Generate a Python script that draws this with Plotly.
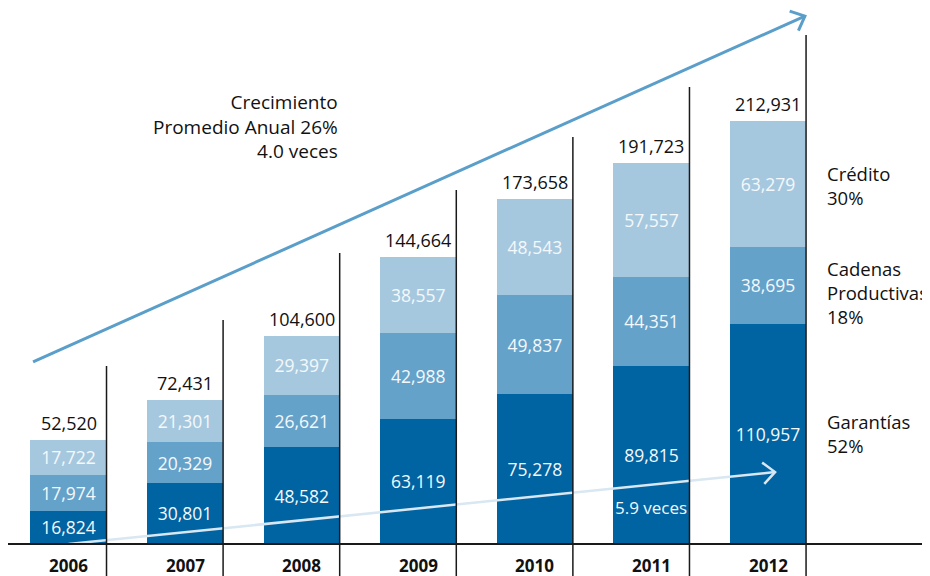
"""
Crecimiento de la cartera 2006-2012, barras apiladas con Plotly.
"""
import math
import plotly.graph_objects as go

# datos
years = ["2006", "2007", "2008", "2009", "2010", "2011", "2012"]
garantias = [16824, 30801, 48582, 63119, 75278, 89815, 110957]
cadenas = [17974, 20329, 26621, 42988, 49837, 44351, 38695]
credito = [17722, 21301, 29397, 38557, 48543, 57557, 63279]
totales = [52520, 72431, 104600, 144664, 173658, 191723, 212931]
# altura de las lineas divisorias a la derecha de cada barra
separadores = [89600, 112700, 146500, 178200, 204800, 230000, 256200]

series_labels = [
    ("Garantías<br>52%", 0),
    ("Cadenas<br>Productivas<br>18%", 1),
    ("Crédito<br>30%", 2),
]

# estilo
# la pagina html deja 8px de margen en el body, la figura se ajusta a eso
W, H = 922, 568
FONT = "Open Sans, sans-serif"
C_DARK = "#0063A2"
C_MID = "#64A2CA"
C_LIGHT = "#A6C8DF"
INK = "#111111"
BAR_W = 0.652
X_RANGE = [-0.5189, 7.389]
Y_RANGE = [-16100, 269750]
LABEL_NUDGE = {0: 0, 1: -7, 2: -2}


def to_px(x, y):
    px = (x - X_RANGE[0]) / (X_RANGE[1] - X_RANGE[0]) * W
    py = H - (y - Y_RANGE[0]) / (Y_RANGE[1] - Y_RANGE[0]) * H
    return px, py


def to_data(px, py):
    x = X_RANGE[0] + px / W * (X_RANGE[1] - X_RANGE[0])
    y = Y_RANGE[0] + (H - py) / H * (Y_RANGE[1] - Y_RANGE[0])
    return x, y


def arrow(fig, start, tip, color, width, head=16, angle=42):
    """Flecha con punta abierta (chevron)."""
    sx, sy = to_px(*start)
    tx, ty = to_px(*tip)
    back = math.atan2(sy - ty, sx - tx)
    a1 = back + math.radians(angle)
    a2 = back - math.radians(angle)
    p1 = to_data(tx + head * math.cos(a1), ty + head * math.sin(a1))
    p2 = to_data(tx + head * math.cos(a2), ty + head * math.sin(a2))
    fig.add_trace(go.Scatter(
        x=[start[0], tip[0], None, p1[0], tip[0], p2[0]],
        y=[start[1], tip[1], None, p1[1], tip[1], p2[1]],
        mode="lines",
        line=dict(color=color, width=width),
        hoverinfo="skip", showlegend=False,
    ))


xs = list(range(len(years)))
fig = go.Figure()

for vals, color in [(garantias, C_DARK), (cadenas, C_MID), (credito, C_LIGHT)]:
    fig.add_trace(go.Bar(
        x=xs,
        y=vals,
        width=BAR_W,
        marker=dict(color=color, line=dict(width=0)),
        text=[f"{v:,}" for v in vals],
        textposition="inside",
        insidetextanchor="middle",
        constraintext="none",
        textfont=dict(color="#F4F8FB", size=17.5, family=FONT),
        showlegend=False,
    ))

# lineas divisorias
shapes = []
for i, h in enumerate(separadores):
    shapes.append(dict(
        type="line", xref="x", yref="y",
        x0=i + BAR_W / 2, x1=i + BAR_W / 2, y0=Y_RANGE[0], y1=h,
        line=dict(color="#1a1a1a", width=1.5), layer="above",
    ))
# linea base
shapes.append(dict(
    type="line", xref="x", yref="y",
    x0=-0.52, x1=X_RANGE[1], y0=0, y1=0,
    line=dict(color="#1a1a1a", width=2), layer="above",
))

# flechas
arrow(fig, (-0.304, 91600), (6.316, 265700), "#5A9ECA", 3)
arrow(fig, (0.0, 0), (6.06, 36200), "#D8E7F1", 2.5)

annotations = []
for i, t in enumerate(totales):
    annotations.append(dict(
        x=i, y=t, xref="x", yref="y", text=f"{t:,}",
        showarrow=False, yanchor="bottom", yshift=3,
        font=dict(size=18, color=INK, family=FONT),
    ))
for i, y in enumerate(years):
    annotations.append(dict(
        x=i, y=0, xref="x", yref="y", text=f"<b>{y}</b>",
        showarrow=False, yanchor="top", yshift=-8,
        font=dict(size=17, color=INK, family=FONT),
    ))

# etiquetas de series a la derecha de 2012
last = len(years) - 1
stack = [garantias[last], cadenas[last], credito[last]]
for text, k in series_labels:
    mid = sum(stack[:k]) + stack[k] / 2
    annotations.append(dict(
        x=last + BAR_W / 2, y=mid, xref="x", yref="y", text=text,
        showarrow=False, xanchor="left", yanchor="middle", align="left",
        xshift=19, yshift=LABEL_NUDGE[k],
        font=dict(size=18.5, color=INK, family=FONT),
    ))

annotations.append(dict(
    x=2.328, y=209900, xref="x", yref="y",
    text="Crecimiento<br>Promedio Anual 26%<br>4.0 veces",
    showarrow=False, xanchor="right", yanchor="middle", align="right",
    font=dict(size=19, color=INK, family=FONT),
))
annotations.append(dict(
    x=5, y=18600, xref="x", yref="y", text="5.9 veces",
    showarrow=False,
    font=dict(size=17, color="#F4F8FB", family=FONT),
))

fig.update_layout(
    width=W, height=H,
    barmode="stack",
    margin=dict(l=0, r=0, t=0, b=0),
    plot_bgcolor="white",
    paper_bgcolor="white",
    font=dict(family=FONT),
    shapes=shapes,
    annotations=annotations,
    showlegend=False,
)
fig.update_xaxes(range=X_RANGE, visible=False, fixedrange=True)
fig.update_yaxes(range=Y_RANGE, visible=False, fixedrange=True)

fig.write_html("out.html")
